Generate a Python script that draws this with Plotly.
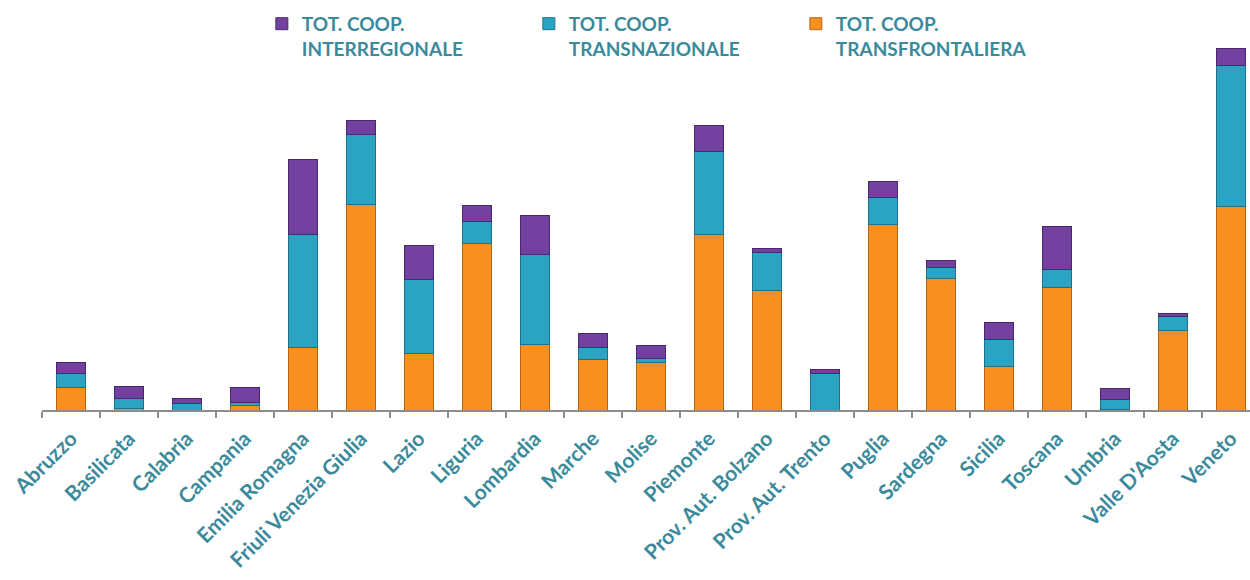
import plotly.graph_objects as go

# Regions (x categories)
regions = [
    "Abruzzo", "Basilicata", "Calabria", "Campania", "Emilia Romagna",
    "Friuli Venezia Giulia", "Lazio", "Liguria", "Lombardia", "Marche",
    "Molise", "Piemonte", "Prov. Aut. Bolzano", "Prov. Aut. Trento", "Puglia",
    "Sardegna", "Sicilia", "Toscana", "Umbria", "Valle D'Aosta", "Veneto",
]

# Stacked series, bottom to top
transfrontaliera = [23, 2, 0, 5, 63, 206, 57, 167, 66, 51, 48, 176, 120, 0, 186, 132, 44, 123, 1, 80, 204]
transnazionale = [14, 10, 7, 3, 113, 70, 74, 22, 90, 12, 4, 83, 38, 37, 27, 11, 27, 18, 10, 14, 141]
interregionale = [11, 12, 5, 15, 75, 14, 34, 16, 39, 14, 13, 26, 4, 4, 16, 7, 17, 43, 11, 3, 17]

TEXT_COLOR = "#3A8A9C"
ORANGE = "#F7901E"
TEAL = "#2BA4C4"
PURPLE = "#7241A0"

fig = go.Figure()
fig.add_trace(go.Bar(
    x=regions, y=transfrontaliera, name="TOT. COOP.<br>TRANSFRONTALIERA",
    marker=dict(color=ORANGE, line=dict(color="#B5651A", width=1)),
    legendrank=3,
))
fig.add_trace(go.Bar(
    x=regions, y=transnazionale, name="TOT. COOP.<br>TRANSNAZIONALE",
    marker=dict(color=TEAL, line=dict(color="#1E7189", width=1)),
    legendrank=2,
))
fig.add_trace(go.Bar(
    x=regions, y=interregionale, name="TOT. COOP.<br>INTERREGIONALE",
    marker=dict(color=PURPLE, line=dict(color="#4A2870", width=1)),
    legendrank=1,
))

fig.update_layout(
    barmode="stack",
    bargap=0.5,
    width=1250, height=580,
    margin=dict(l=42, r=0, t=40, b=170),
    paper_bgcolor="white", plot_bgcolor="white",
    font=dict(family="Lato", color=TEXT_COLOR),
    showlegend=True,
    legend=dict(
        orientation="h",
        x=0.182, xanchor="left",
        y=1.095, yanchor="top",
        traceorder="normal",
        entrywidth=222, entrywidthmode="pixels",
        itemwidth=30,
        valign="top",
        font=dict(family="Lato", size=19, color=TEXT_COLOR, weight="bold"),
    ),
    xaxis=dict(
        range=[-0.5, 20.33],
        showline=True, linecolor="#8C8C8C", linewidth=2,
        ticks="outside", tickson="boundaries", ticklen=6,
        tickcolor="#8C8C8C", tickwidth=2,
        tickangle=-45,
        ticklabelstandoff=6,
        tickfont=dict(family="Lato", size=21, color=TEXT_COLOR, weight="bold"),
        showgrid=False, zeroline=False,
    ),
    yaxis=dict(
        range=[0, 370],
        visible=False, showgrid=False, zeroline=False,
    ),
)

fig.write_html("out.html")
